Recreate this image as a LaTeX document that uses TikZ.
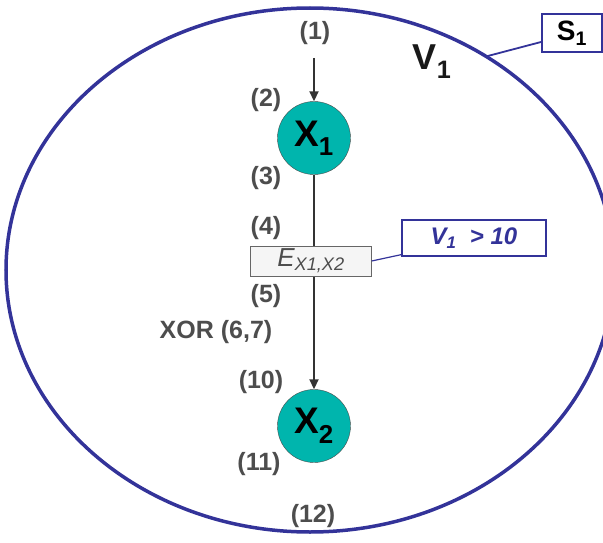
\documentclass[tikz,border=0pt]{standalone}
\usepackage{fontspec}
\setmainfont{Liberation Sans}
\usetikzlibrary{arrows.meta, calc}

\definecolor{setblue}{RGB}{51,51,153}
\definecolor{stategreen}{RGB}{0,181,173}
\definecolor{labelgray}{RGB}{77,77,77}

\begin{document}
\begin{tikzpicture}[x=1pt, y=-1pt,
    state/.style={circle, draw=black!70, fill=stategreen, minimum size=73pt,
        inner sep=0pt, font=\fontsize{37}{40}\selectfont\bfseries},
    poslabel/.style={text=labelgray, font=\fontsize{25}{28}\selectfont\bfseries},
    flow/.style={draw=black!80, line width=1.8pt, -{Triangle[length=10pt,width=9pt]}},
    edgebox/.style={draw=black!60, fill=black!4, minimum width=121pt, minimum height=30pt,
        inner sep=0pt, text=labelgray, font=\fontsize{26}{28}\selectfont\itshape},
    condbox/.style={draw=setblue, line width=1.2pt, fill=white, minimum width=144pt,
        minimum height=36pt, inner sep=0pt, text=setblue,
        font=\fontsize{24}{28}\selectfont\bfseries\itshape},
    setbox/.style={draw=setblue, line width=2pt, fill=white, minimum width=60pt,
        minimum height=38pt, inner sep=0pt, font=\fontsize{28}{32}\selectfont\bfseries}]

    \useasboundingbox (0,0) rectangle (603,543);

    % Set V1
    \draw[setblue, line width=3.5pt] (310,270) ellipse [x radius=304pt, y radius=262pt];
    \coordinate (rim) at ($(310,270)+(54.6:304pt and 262pt)$);
    \node[font=\fontsize{36}{40}\selectfont\bfseries, text=black!90] (v1) at (432,62) {V\textsubscript{1}};

    % States
    \node[state] (x1) at (314,138) {X\textsubscript{1}};
    \node[state] (x2) at (314,426) {X\textsubscript{2}};

    % Flow
    \coordinate (in) at (314,58);
    \draw[flow] (in) -- (x1);
    \draw[flow] (x1) -- (x2);

    % Edge and its condition
    \node[edgebox] (e12) at (311,261) {E\textsubscript{X1,X2}};
    \node[condbox] (cond) at (474,238) {V\textsubscript{1}\ \ > 10};
    \draw[setblue, line width=1.2pt] (e12.east) -- ([yshift=2pt]cond.south west);

    % Scope S1
    \node[setbox] (s1) at (572,33) {S\textsubscript{1}};
    \draw[setblue, line width=1.8pt] ([yshift=-9pt]s1.west) -- (rim);

    % Position labels
    \node[poslabel] (p1) at (315,33) {(1)};
    \node[poslabel] (p2) at (266,100) {(2)};
    \node[poslabel] (p3) at (266,178) {(3)};
    \node[poslabel] (p4) at (266,228) {(4)};
    \node[poslabel] (p5) at (266,296) {(5)};
    \node[poslabel] (p67) at (216,332) {XOR (6,7)};
    \node[poslabel] (p10) at (261,382) {(10)};
    \node[poslabel] (p11) at (259,464) {(11)};
    \node[poslabel] (p12) at (313,516) {(12)};

\end{tikzpicture}
\end{document}
